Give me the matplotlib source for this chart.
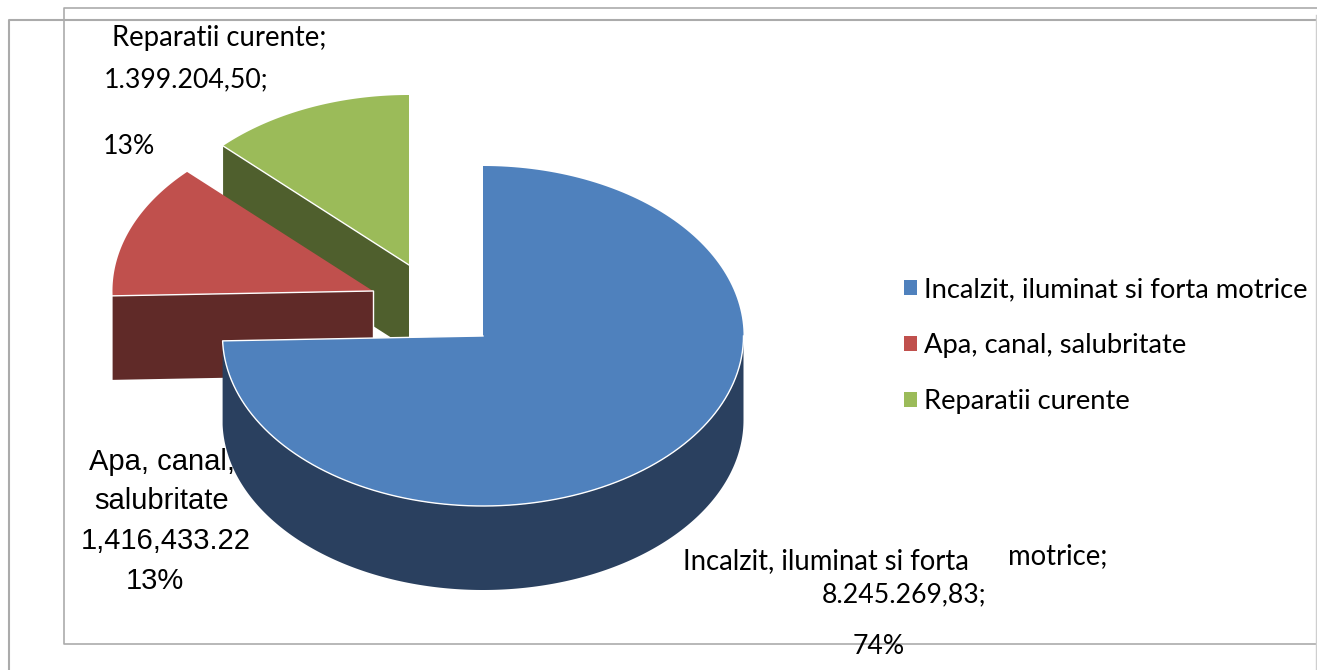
import matplotlib
matplotlib.use("Agg")
import matplotlib.pyplot as plt
from matplotlib.patches import Patch, Polygon
import numpy as np

categories = ["Incalzit, iluminat si forta motrice", "Apa, canal, salubritate", "Reparatii curente"]
values = [8245269.83, 1416433.22, 1399204.50]
top_colors = ["#4F81BD", "#C0504D", "#9BBB59"]
side_colors = ["#2A405F", "#602A28", "#4F5F2D"]
frame_color = "#ABABAB"

# pie geometry, in pixels
rx = 260.5
ry = 170
depth = 84
centers = [(483, 336), (373, 291), (409, 265)]

fig = plt.figure(figsize=(13.17, 6.70), dpi=100)
ax = fig.add_axes([0, 0, 1, 1])
ax.set_xlim(0, 1317)
ax.set_ylim(670, 0)
ax.axis("off")

total = sum(values)
shares = np.array(values) / total
ends = np.cumsum(shares) * 360
starts = ends - shares * 360


def arc(c, a0, a1, dy=0):
    t = np.radians(np.linspace(a0, a1, 200))
    return np.column_stack([c[0] + rx * np.sin(t), c[1] - ry * np.cos(t) + dy])


# frame lines
ax.plot([1317, 9, 9], [20, 20, 670], color=frame_color, lw=1.5, zorder=1)
ax.plot([1317, 63.5, 63.5, 1317], [8, 8, 644, 644], color=frame_color, lw=1.2, zorder=1)
ax.plot([1316, 1316], [15, 670], color="#CFCFCF", lw=1, zorder=1)

# green slice, cut face then top
c = centers[2]
p0 = arc(c, starts[2], starts[2])[0]
ax.add_patch(Polygon([p0, c, (c[0], c[1] + depth), (p0[0], p0[1] + depth)], fc=side_colors[2], ec="none", zorder=2))
ax.add_patch(Polygon(np.vstack([[c], arc(c, starts[2], ends[2])]), fc=top_colors[2], ec="none", zorder=3))
ax.plot([p0[0], c[0]], [p0[1], c[1]], color="white", lw=1, zorder=3)

# red slice
c = centers[1]
p0 = arc(c, starts[1], starts[1])[0]
ax.add_patch(Polygon([p0, c, (c[0], c[1] + depth), (p0[0], p0[1] + depth)], fc=side_colors[1], ec="none", zorder=4))
ax.add_patch(Polygon(np.vstack([[c], arc(c, starts[1], ends[1])]), fc=top_colors[1], ec="none", zorder=5))
ax.plot([p0[0], c[0]], [p0[1], c[1]], color="white", lw=1, zorder=5)
ax.plot([c[0], c[0]], [c[1], c[1] + depth], color="white", lw=1, zorder=5)

# blue slice, outer wall then top
c = centers[0]
ax.add_patch(Polygon(np.vstack([arc(c, 90, ends[0]), arc(c, ends[0], 90, depth)]), fc=side_colors[0], ec="none", zorder=6))
ax.add_patch(Polygon(np.vstack([[c], arc(c, starts[0], ends[0])]), fc=top_colors[0], ec="none", zorder=7))
edge = np.vstack([arc(c, 90, ends[0]), [c]])
ax.plot(edge[:, 0], edge[:, 1], color="white", lw=1, zorder=7)

# data labels
lato = ["Lato", "DejaVu Sans"]
liberation = ["Liberation Sans", "DejaVu Sans"]
ax.text(219, 38, "Reparatii curente;", ha="center", va="center", family=lato, fontsize=19.8, zorder=8)
ax.text(186, 80, "1.399.204,50;", ha="center", va="center", family=lato, fontsize=19.2, zorder=8)
ax.text(129, 146, "13%", ha="center", va="center", family=lato, fontsize=19.2, zorder=8)

ax.text(162, 462, "Apa, canal,", ha="center", va="center", family=liberation, fontsize=21, zorder=5.5)
ax.text(162, 501, "salubritate", ha="center", va="center", family=liberation, fontsize=21, zorder=8)
ax.text(166, 541, "1,416,433.22", ha="center", va="center", family=liberation, fontsize=21, zorder=8)
ax.text(155, 581, "13%", ha="center", va="center", family=liberation, fontsize=21, zorder=8)

ax.text(826, 561, "Incalzit, iluminat si forta", ha="center", va="center", family=lato, fontsize=19.8, zorder=8)
ax.text(1058, 556, "motrice;", ha="center", va="center", family=lato, fontsize=19.8, zorder=8)
ax.text(904, 595, "8.245.269,83;", ha="center", va="center", family=lato, fontsize=19.2, zorder=8)
ax.text(879, 647, "74%", ha="center", va="center", family=lato, fontsize=19.2, zorder=8)

# legend
handles = [Patch(facecolor=col, edgecolor="none") for col in top_colors]
ax.legend(handles, categories, loc="center left", bbox_to_anchor=(0.6864, 0.484), frameon=False,
          prop={"family": "Lato", "size": 19.7}, handlelength=0.48, handleheight=0.48,
          handletextpad=0.26, labelspacing=1.12, borderpad=0, borderaxespad=0)

fig.savefig("out.png", dpi=100)
